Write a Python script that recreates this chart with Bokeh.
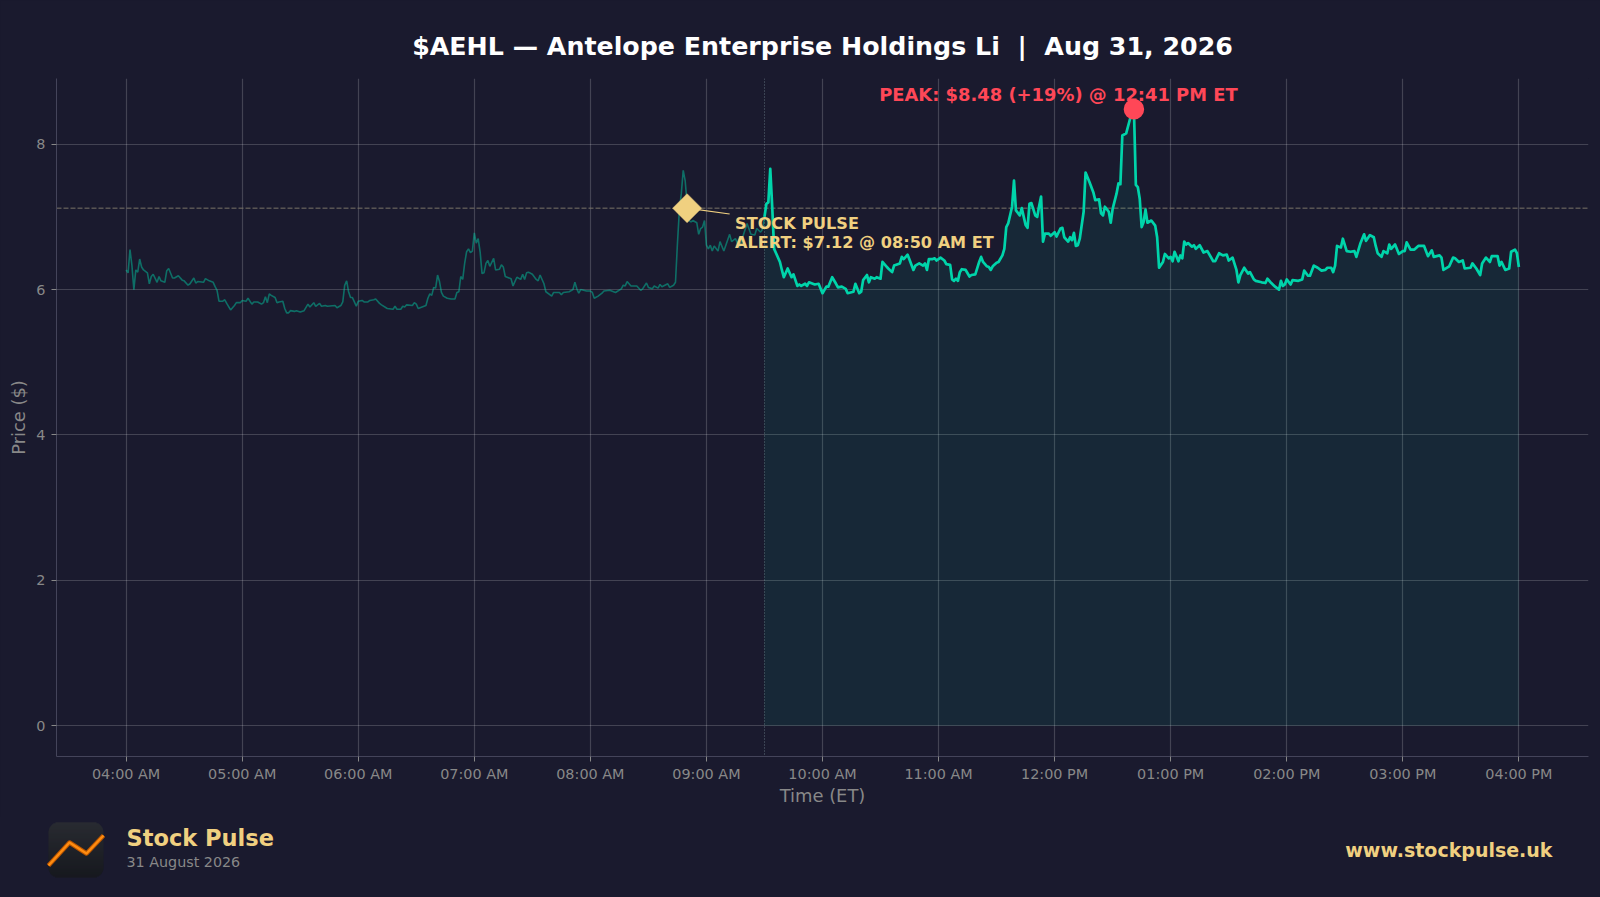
import numpy as np
from bokeh.core.properties import value
from bokeh.embed import file_html
from bokeh.layouts import column
from bokeh.models import FixedTicker, Span
from bokeh.plotting import figure
from bokeh.resources import INLINE

# minutes since 04:00 ET
premarket_t = [0,1,2,3,4,5,6,7,8,9,11,12,13,14,16,17,18,20,21,22,24,25,27,29,30,32,33,35,36,37,40,41,43,45,46,47,48,50,51,52,54,56,57,59,60,62,63,65,66,68,70,71,72,73,74,75,77,78,79,81,82,83,84,85,87,88,90,92,94,95,97,98,100,
 101,103,104,108,109,111,112,113,114,115,116,117,118,119,120,122,123,125,126,128,129,131,132,135,138,139,140,142,143,144,145,148,149,150,151,153,155,156,157,158,159,160,161,162,163,164,166,168,170,171,172,173,174,175,176,177,178,179,180,181,182,183,184,185,186,187,188,190,191,193,194,195,196,199,200,202,204,
 205,206,207,208,210,212,213,214,216,217,219,220,221,224,225,226,229,231,232,233,234,235,238,240,241,242,244,246,247,250,253,256,257,258,259,261,264,266,267,269,270,272,273,275,276,277,280,281,283,284,285,286,287,288,289,290,291,292,293,295,296,297,298,299,300,301,302,303,304,306,307,309,312,313,315,317,318,321,323,325,326,328,329]
premarket_p = [6.27,6.23,6.55,6.33,6.00,6.27,6.24,6.42,6.31,6.27,6.23,6.08,6.18,6.21,6.10,6.18,6.12,6.10,6.26,6.29,6.16,6.16,6.19,6.13,6.12,6.06,6.08,6.16,6.09,6.11,6.10,6.15,6.12,6.10,6.04,5.99,5.84,5.84,5.86,5.81,5.72,5.78,5.82,5.82,5.85,5.84,5.88,5.80,5.83,5.83,5.80,5.82,5.90,5.82,5.94,5.92,5.89,5.82,5.83,5.84,5.74,5.68,5.68,5.71,5.70,5.71,5.69,5.71,5.80,5.76,5.82,5.77,5.81,
 5.77,5.78,5.77,5.78,5.75,5.78,5.83,6.06,6.12,5.97,5.89,5.89,5.83,5.77,5.84,5.85,5.83,5.83,5.85,5.86,5.87,5.81,5.79,5.74,5.73,5.77,5.73,5.73,5.77,5.76,5.79,5.78,5.82,5.80,5.74,5.76,5.78,5.88,5.94,5.92,6.03,6.02,6.20,6.11,5.96,5.91,5.88,5.87,5.87,5.96,5.97,6.18,6.14,6.36,6.52,6.56,6.51,6.53,6.78,6.64,6.70,6.52,6.22,6.23,6.36,6.40,6.32,6.43,6.27,6.28,6.34,6.31,6.18,6.15,6.05,6.17,6.14,
 6.21,6.14,6.23,6.24,6.21,6.14,6.12,6.20,6.08,5.97,5.93,5.91,5.96,5.96,5.93,5.96,5.97,6.00,6.10,6.01,5.95,6.00,5.98,5.98,5.96,5.88,5.91,5.95,5.98,5.99,5.96,6.01,6.06,6.05,6.11,6.05,6.05,5.99,6.01,6.09,6.03,6.01,6.05,6.02,6.07,6.04,6.08,6.03,6.06,6.10,6.63,7.09,7.32,7.64,7.50,7.18,6.95,6.93,6.95,6.92,6.76,6.84,6.86,6.95,6.61,6.56,6.61,6.53,6.60,6.53,6.66,6.53,6.76,6.66,6.70,6.58,6.66,6.91,6.76,6.75,6.84,6.79,6.83]

regular_t = [330,331,332,333,334,335,336,338,339,340,342,344,345,347,348,349,351,352,353,355,356,358,360,362,363,365,367,368,370,372,373,376,377,379,380,381,383,384,385,387,388,390,391,393,394,396,397,400,
 401,402,404,405,407,408,410,412,413,414,415,417,418,419,421,423,424,426,427,428,429,430,431,432,434,436,437,439,441,442,443,445,446,447,448,450,451,453,454,455,456,458,459,460,462,463,465,466,467,468,470,471,472,473,474,475,477,478,480,481,483,484,485,487,488,489,490,491,492,493,
 495,496,498,500,501,503,504,505,506,508,509,510,512,513,514,515,517,519,521,522,523,524,525,526,527,528,530,532,533,534,536,537,539,540,541,542,544,545,546,547,548,549,551,552,553,555,557,559,562,563,565,567,569,570,572,574,575,576,578,580,581,583,584,587,589,590,592,594,596,
 597,598,599,600,602,603,606,608,609,611,612,614,616,618,620,621,623,624,625,626,628,629,631,633,635,636,638,640,641,643,645,646,647,649,650,652,653,654,656,658,660,661,662,664,666,668,671,673,675,676,679,680,681,684,686,687,689,691,692,695,696,698,700,701,703,705,706,709,710,711,713,715,716,718,719,720]
regular_p = [7.00,7.18,7.20,7.66,7.14,6.56,6.50,6.38,6.27,6.17,6.29,6.17,6.21,6.05,6.07,6.05,6.08,6.05,6.10,6.08,6.07,6.08,5.95,6.04,6.04,6.17,6.08,6.03,6.04,6.01,5.95,5.97,6.08,5.95,5.97,6.13,6.20,6.10,6.17,6.15,6.17,6.15,6.38,6.32,6.29,6.24,6.33,6.36,
 6.45,6.42,6.48,6.41,6.27,6.33,6.36,6.33,6.36,6.27,6.42,6.42,6.43,6.40,6.44,6.40,6.35,6.34,6.14,6.12,6.15,6.12,6.24,6.28,6.27,6.18,6.20,6.21,6.38,6.45,6.38,6.32,6.31,6.27,6.32,6.37,6.38,6.47,6.56,6.86,6.91,7.14,7.50,7.09,7.02,7.12,6.89,6.85,7.18,7.19,7.02,7.00,7.15,7.28,6.66,6.77,6.77,6.74,6.79,6.73,6.84,6.85,6.72,6.66,6.72,6.68,6.78,6.60,6.61,6.70,
 7.07,7.61,7.48,7.34,7.23,7.24,7.05,7.02,7.14,7.07,6.92,7.11,7.32,7.46,7.45,8.12,8.15,8.35,8.48,7.44,7.41,7.25,6.86,6.93,7.10,6.92,6.95,6.88,6.72,6.30,6.38,6.49,6.43,6.45,6.39,6.52,6.39,6.47,6.43,6.66,6.62,6.64,6.59,6.61,6.56,6.61,6.51,6.53,6.39,6.39,6.50,6.47,6.48,6.40,6.44,6.27,6.10,6.20,6.30,6.22,6.24,6.14,6.12,6.10,6.09,6.15,6.09,6.04,6.00,
 6.12,6.05,6.07,6.14,6.07,6.13,6.12,6.14,6.26,6.19,6.19,6.33,6.30,6.26,6.27,6.30,6.30,6.24,6.33,6.60,6.58,6.70,6.53,6.52,6.53,6.45,6.63,6.76,6.67,6.75,6.72,6.60,6.50,6.45,6.53,6.50,6.62,6.56,6.62,6.49,6.53,6.53,6.65,6.55,6.55,6.60,6.60,6.46,6.54,6.45,6.47,6.44,6.27,6.32,6.44,6.43,6.38,6.40,6.29,6.30,6.36,6.29,6.20,6.36,6.44,6.38,6.46,6.46,6.33,6.38,6.27,6.29,6.52,6.55,6.50,6.31]

hour_ticks = [0, 60, 120, 180, 240, 300, 360, 420, 480, 540, 600, 660, 720]
hour_labels = ["04:00 AM", "05:00 AM", "06:00 AM", "07:00 AM", "08:00 AM", "09:00 AM", "10:00 AM",
               "11:00 AM", "12:00 PM", "01:00 PM", "02:00 PM", "03:00 PM", "04:00 PM"]
price_ticks = [0, 2, 4, 6, 8]

open_t = 330
alert_t, alert_p = 290, 7.12
peak_t, peak_p = 521, 8.48

BG = "#1a1a2e"
TEAL = "#00d4aa"
GOLD = "#f0d080"
RED = "#ff4757"
FONT = "DejaVu Sans"

main = figure(width=1600, height=816, output_backend="svg", toolbar_location=None,
              x_range=(-36, 756), y_range=(-0.424, 8.904),
              background_fill_color=BG, border_fill_color=BG,
              min_border_left=56, min_border_right=12, min_border_top=78, min_border_bottom=60)
main.outline_line_color = None
main.styles = {"background-color": BG}

main.title.text = "$AEHL \u2014 Antelope Enterprise Holdings Li \u00a0|\u00a0 Aug 31, 2026"
main.title.align = "center"
main.title.text_color = "white"
main.title.text_font = FONT
main.title.text_font_style = "bold"
main.title.text_font_size = "25.3px"
main.title.standoff = 35

main.xaxis.ticker = FixedTicker(ticks=hour_ticks)
main.xaxis.major_label_overrides = dict(zip(hour_ticks, hour_labels))
main.yaxis.ticker = FixedTicker(ticks=price_ticks)
main.xaxis.axis_label = "Time (ET)"
main.yaxis.axis_label = "Price ($)"
for ax in [main.xaxis[0], main.yaxis[0]]:
    ax.axis_line_color = "#44445a"
    ax.major_tick_line_color = "#888888"
    ax.major_tick_out = 5
    ax.major_tick_in = 0
    ax.minor_tick_line_color = None
    ax.major_label_text_color = "#888888"
    ax.major_label_text_font = FONT
    ax.major_label_text_font_size = "14.4px"
    ax.axis_label_text_color = "#888888"
    ax.axis_label_text_font = FONT
    ax.axis_label_text_font_style = "normal"
    ax.axis_label_text_font_size = "17.9px"
main.xaxis.major_label_standoff = 4
main.xaxis.axis_label_standoff = 0
main.yaxis.major_label_standoff = 6
main.yaxis.axis_label_standoff = 4

main.grid.grid_line_color = "white"
main.grid.grid_line_alpha = 0.18
main.grid.grid_line_width = 1.2

main.add_layout(Span(location=open_t, dimension="height", line_color="#8fa8b0", level="underlay",
                     line_alpha=0.6, line_width=1, line_dash="1 2"))
main.add_layout(Span(location=alert_p, dimension="width", line_color="#7a7468", level="underlay",
                     line_width=1, line_dash="5 2"))

main.varea(x=regular_t, y1=np.zeros(len(regular_t)), y2=regular_p, fill_color=TEAL, fill_alpha=0.08)
main.line(premarket_t + regular_t[:1], premarket_p + regular_p[:1], line_color=TEAL, line_alpha=0.45, line_width=1.6)
main.line(regular_t, regular_p, line_color=TEAL, line_width=2.7, line_join="round")

# alert marker, leader and its two lines of text
main.segment([alert_t], [alert_p], [alert_t + 22], [alert_p - 0.08], line_color=GOLD, line_width=1.2)
main.scatter([alert_t], [alert_p], marker="square", size=20.5, angle=np.pi / 4,
             fill_color=GOLD, line_color=GOLD, line_width=0.5)
main.text([alert_t, alert_t], [alert_p, alert_p],
          text=["STOCK PULSE", "ALERT: $7.12 @ 08:50 AM ET"],
          x_offset=[48, 48], y_offset=[15, 34.5],
          text_color=GOLD, text_font=value(FONT), text_font_style="bold",
          text_font_size="16.1px", text_align="left", text_baseline="middle")

# peak label goes under the dot
main.text([peak_t], [peak_p], text=["PEAK: $8.48 (+19%) @ 12:41 PM ET"],
          x_offset=[-75.5], y_offset=[-15],
          text_color=RED, text_font=value(FONT), text_font_style="bold",
          text_font_size="17.9px", text_align="center", text_baseline="middle")
main.scatter([peak_t], [peak_p], marker="circle", size=20.5, fill_color=RED, line_color=RED, line_width=0)

# footer strip, its ranges are page pixels
footer = figure(width=1600, height=81, output_backend="svg", toolbar_location=None,
                x_range=(0, 1600), y_range=(81, 0),
                background_fill_color=BG, border_fill_color=BG,
                min_border=0, outline_line_color=None, frame_align=False)
footer.axis.visible = False
footer.grid.visible = False
footer.styles = {"background-color": BG}

rows = np.arange(6, 61)
radius = 10.0
dist = np.maximum(radius - (rows + 0.5 - 6), radius - (61 - rows - 0.5))
inset = np.where(dist > 0, radius - np.sqrt(np.maximum(radius ** 2 - dist ** 2, 0)), 0)
shade = np.linspace(0, 1, len(rows))
row_colors = ["#%02x%02x%02x" % (int(46 - 24 * s), int(49 - 24 * s), int(51 - 25 * s)) for s in shade]
footer.quad(left=48 + inset, right=103 - inset, top=rows, bottom=rows + 1, fill_color=row_colors, line_color=None)
logo_x = [48, 69, 86, 103]
logo_y = [49, 26, 37, 19]
footer.line(logo_x, logo_y, line_color="#b85400", line_width=4.5, line_join="round")
footer.line(logo_x, logo_y, line_color="#ff8c10", line_width=2.5, line_join="round")

footer.text([126], [21], text=["Stock Pulse"], text_color=GOLD, text_font=value(FONT), text_font_style="bold",
            text_font_size="22.5px", text_baseline="middle")
footer.text([126], [45], text=["31 August 2026"], text_color="#888888", text_font=value(FONT),
            text_font_size="14.3px", text_baseline="middle")
footer.text([1552], [33], text=["www.stockpulse.uk"], text_color=GOLD, text_font=value(FONT), text_font_style="bold",
            text_font_size="19px", text_align="right", text_baseline="middle")

p = column(main, footer, spacing=0)
p.styles = {"background-color": BG}

open("out.html", "w").write(file_html(p, INLINE))
